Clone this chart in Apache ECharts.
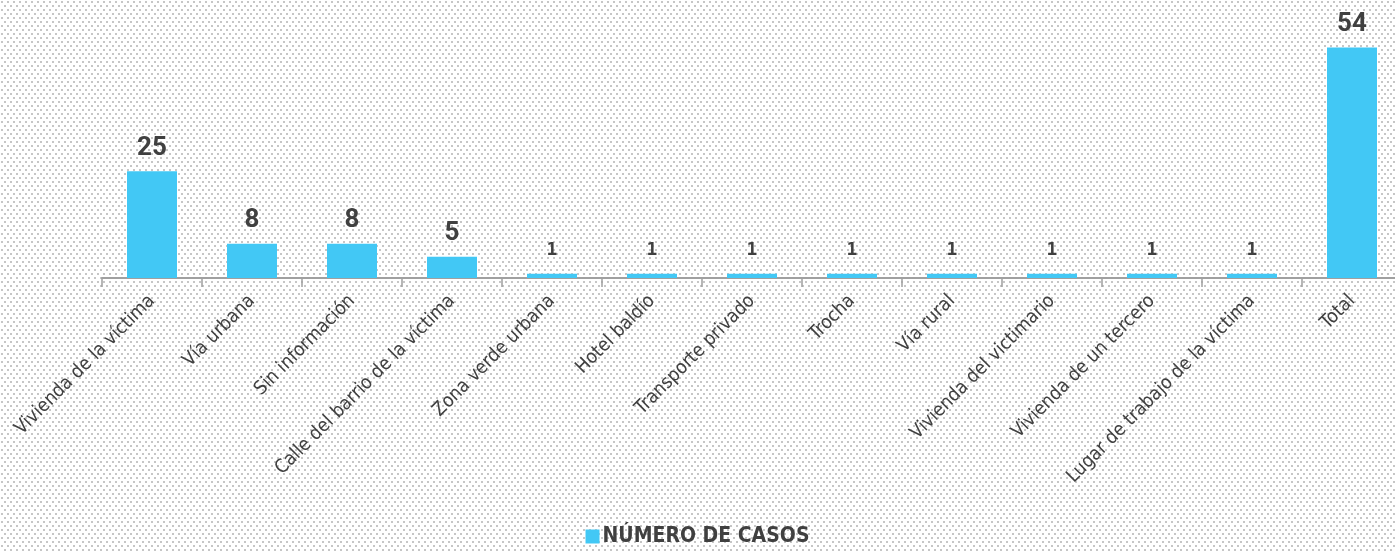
<!DOCTYPE html>
<html>
<head>
<meta charset="utf-8">
<script src="https://cdn.jsdelivr.net/npm/echarts@6/dist/echarts.min.js"></script>
<style>
html, body { margin: 0; padding: 0; background: #fff; }
#box { width: 1395px; height: 552px; }
</style>
</head>
<body>
<div id="box"></div>
<script>
var categories = ['Vivienda de la víctima', 'Vía urbana', 'Sin información', 'Calle del barrio de la víctima',
	'Zona verde urbana', 'Hotel baldío', 'Transporte privado', 'Trocha', 'Vía rural',
	'Vivienda del victimario', 'Vivienda de un tercero', 'Lugar de trabajo de la víctima', 'Total'];
var casos = [25, 8, 8, 5, 1, 1, 1, 1, 1, 1, 1, 1, 54];
var seriesName = 'NÚMERO DE CASOS';

// fondo punteado
var tile = document.createElement('canvas');
tile.width = 6; tile.height = 8;
var ctx = tile.getContext('2d');
ctx.fillStyle = '#ffffff';
ctx.fillRect(0, 0, 6, 8);
ctx.fillStyle = '#c6c6c6';
ctx.fillRect(1, 1, 2, 2);
ctx.fillRect(4, 5, 2, 2);

var narrow = "'Liberation Sans Narrow', 'DejaVu Sans Condensed', sans-serif";

var myChart = echarts.init(document.getElementById('box'));
var option = {
	backgroundColor: { image: tile, repeat: 'repeat' },
	animation: false,
	legend: {
		bottom: 0,
		left: 'center',
		itemWidth: 14,
		itemHeight: 14,
		itemGap: 4,
		icon: 'rect',
		textStyle: { fontFamily: narrow, fontSize: 21, color: '#404040', fontWeight: 'bold', padding: [2, 0, 0, -2] },
		data: [seriesName]
	},
	grid: {
		left: 102,
		right: -7,
		top: 22,
		bottom: 274,
		outerBoundsMode: 'none',
		containLabel: false
	},
	xAxis: {
		type: 'category',
		data: categories,
		axisLine: { lineStyle: { color: '#a0a0a0', width: 2 } },
		axisTick: { show: true, length: 9, lineStyle: { color: '#a0a0a0', width: 1.5 } },
		axisLabel: {
			interval: 0,
			rotate: 45,
			margin: 20,
			fontFamily: narrow,
			fontSize: 19,
			color: '#404040'
		}
	},
	yAxis: {
		type: 'value',
		min: 0,
		max: 60,
		show: false,
		splitLine: { show: false }
	},
	series: [{
		name: seriesName,
		type: 'bar',
		data: casos,
		barWidth: 50,
		itemStyle: { color: '#42C8F5' },
		label: {
			show: true,
			position: 'top',
			distance: 10,
			color: '#404040',
			fontFamily: 'Roboto',
			fontWeight: 'bold',
			fontSize: 26
		}
	}]
};
// las etiquetas de 1 usan otra letra, más pequeña
option.series[0].data = casos.map(function (v) {
	return v === 1 ? { value: v, label: { fontSize: 18, distance: 14, fontFamily: 'DejaVu Sans Mono' } } : v;
});
myChart.setOption(option, true);
</script>
</body>
</html>
